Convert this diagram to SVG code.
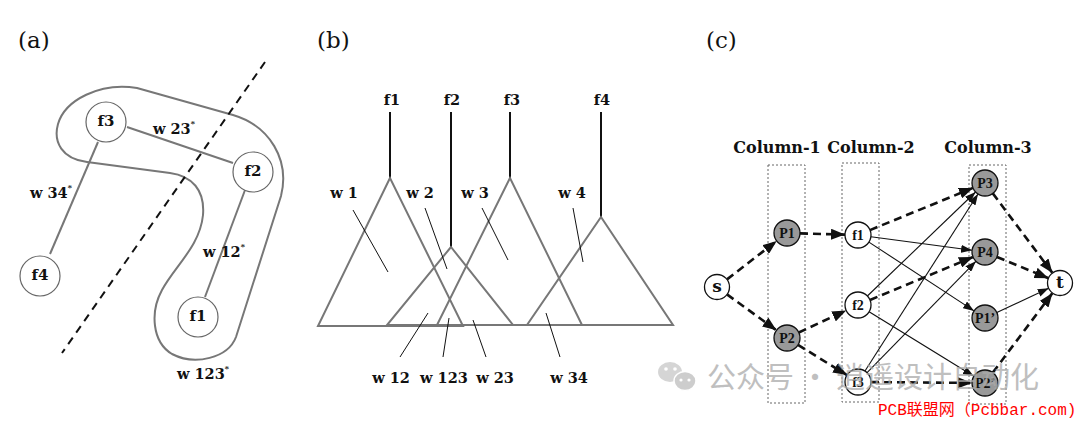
<svg xmlns="http://www.w3.org/2000/svg" width="1080" height="423" viewBox="0 0 1080 423">
<style>
.pl{font-family:"DejaVu Serif","Liberation Serif",serif;font-size:23px;fill:#111}
.lb{font-family:"DejaVu Serif","Liberation Serif",serif;font-weight:bold;font-size:14.5px;fill:#111}
.lbm{font-family:"DejaVu Serif","Liberation Serif",serif;font-weight:bold;font-size:14.5px;fill:#111;text-anchor:middle}
.sup{font-size:8px}
.nd{font-family:"DejaVu Serif","Liberation Serif",serif;font-weight:bold;font-size:15px;fill:#111;text-anchor:middle;dominant-baseline:central}
.cn{font-family:"Liberation Serif",serif;font-weight:bold;font-size:14px;fill:#111;text-anchor:middle;dominant-baseline:central}
.cb{font-family:"DejaVu Serif","Liberation Serif",serif;font-weight:bold;font-size:17px;fill:#111;text-anchor:middle;dominant-baseline:central}
.col{font-family:"DejaVu Serif","Liberation Serif",serif;font-weight:bold;font-size:16px;fill:#111;text-anchor:middle}
.ac{fill:#fff;stroke:#666;stroke-width:1.2}
.ae{stroke:#777;stroke-width:2;fill:none}
.tri{stroke:#777;stroke-width:2;fill:none}
.stem{stroke:#111;stroke-width:2}
.lead{stroke:#111;stroke-width:1}
.wn{fill:#fff;stroke:#111;stroke-width:1.3}
.gn{fill:#999;stroke:#111;stroke-width:1.3}
.dsh{stroke:#111;stroke-width:2.6;stroke-dasharray:8,5;fill:none;marker-end:url(#ah)}
.sol{stroke:#111;stroke-width:1.1;fill:none;marker-end:url(#as)}
.box{fill:none;stroke:#666;stroke-width:1;stroke-dasharray:2,2}
</style>
<defs>
<marker id="ah" markerUnits="userSpaceOnUse" markerWidth="14" markerHeight="11" refX="14" refY="5.5" orient="auto"><path d="M0,0 L14,5.5 L0,11 Z" fill="#111"/></marker>
<marker id="as" markerUnits="userSpaceOnUse" markerWidth="11" markerHeight="8" refX="11" refY="4" orient="auto"><path d="M0,0 L11,4 L0,8 Z" fill="#111"/></marker>
</defs>
<rect width="1080" height="423" fill="#fff"/>

<!-- Panel (a) -->
<text class="pl" x="18" y="48">(a)</text>
<g id="a-blob"><path class="ae" d="M137,88 L233,115 C270,126 290,160 281,196 L236,337 C228,358 195,366 172,354 C152,342 150,312 162,290 C175,266 200,246 203,215 C205,190 192,176 170,173 L87,162 C62,159 53,142 58,124 C65,100 100,82 137,88 Z"/></g>
<g id="a-connectors">
<line class="ae" x1="127" y1="127" x2="233" y2="163"/>
<line class="ae" x1="98" y1="142" x2="50" y2="254"/>
<line class="ae" x1="245" y1="190" x2="205" y2="297"/>
<line x1="265" y1="62" x2="62" y2="353" stroke="#111" stroke-width="2" stroke-dasharray="8,6"/>
</g>
<g id="a-f3"><circle class="ac" cx="106" cy="122" r="20"/><text class="nd" x="106" y="121">f3</text></g>
<g id="a-f2"><circle class="ac" cx="253" cy="172" r="20"/><text class="nd" x="253" y="171">f2</text></g>
<g id="a-f4"><circle class="ac" cx="40" cy="276" r="20"/><text class="nd" x="40" y="275">f4</text></g>
<g id="a-f1"><circle class="ac" cx="198" cy="317" r="20"/><text class="nd" x="198" y="316">f1</text></g>
<text class="lb" x="153" y="134">w 23<tspan class="sup" dy="-8">*</tspan></text>
<text class="lb" x="30" y="198">w 34<tspan class="sup" dy="-8">*</tspan></text>
<text class="lb" x="203" y="257">w 12<tspan class="sup" dy="-8">*</tspan></text>
<text class="lb" x="177" y="379">w 123<tspan class="sup" dy="-8">*</tspan></text>

<!-- Panel (b) -->
<text class="pl" x="317" y="48">(b)</text>
<g id="b-f1"><text class="lbm" x="392" y="105">f1</text><line class="stem" x1="390" y1="112" x2="390" y2="179"/><path class="tri" d="M390,178 L318,326 L463,326 Z"/></g>
<g id="b-f2"><text class="lbm" x="452" y="105">f2</text><line class="stem" x1="451" y1="112" x2="451" y2="248"/><path class="tri" d="M451,247 L387,325 L513,325 Z"/></g>
<g id="b-f3"><text class="lbm" x="512" y="105">f3</text><line class="stem" x1="510" y1="112" x2="510" y2="179"/><path class="tri" d="M510,178 L437,325 L582,325 Z"/></g>
<g id="b-f4"><text class="lbm" x="602" y="105">f4</text><line class="stem" x1="601" y1="112" x2="601" y2="218"/><path class="tri" d="M601,217 L527,325 L673,325 Z"/></g>
<g id="b-leaders">
<line class="lead" x1="353" y1="210" x2="388" y2="272"/>
<line class="lead" x1="425" y1="208" x2="447" y2="269"/>
<line class="lead" x1="482" y1="208" x2="508" y2="260"/>
<line class="lead" x1="573" y1="208" x2="583" y2="262"/>
<line class="lead" x1="428" y1="313" x2="400" y2="357"/>
<line class="lead" x1="449" y1="318" x2="443" y2="357"/>
<line class="lead" x1="473" y1="320" x2="486" y2="357"/>
<line class="lead" x1="546" y1="313" x2="560" y2="357"/>
</g>
<text class="lbm" x="344" y="198">w 1</text>
<text class="lbm" x="420" y="198">w 2</text>
<text class="lbm" x="475" y="198">w 3</text>
<text class="lbm" x="572" y="198">w 4</text>
<text class="lbm" x="391" y="383">w 12</text>
<text class="lbm" x="444" y="383">w 123</text>
<text class="lbm" x="495" y="383">w 23</text>
<text class="lbm" x="569" y="383">w 34</text>

<!-- Panel (c) -->
<text class="pl" x="706" y="48">(c)</text>
<text class="col" x="777" y="153">Column-1</text>
<text class="col" x="871" y="153">Column-2</text>
<text class="col" x="988" y="153">Column-3</text>
<g id="c-columns">
<rect class="box" x="768" y="165" width="37" height="238"/>
<rect class="box" x="842" y="163" width="37" height="239"/>
<rect class="box" x="969" y="165" width="37" height="239"/>
</g>
<g id="c-connectors">
<line class="dsh" x1="727" y1="279.4" x2="776.7" y2="240.9"/>
<line class="dsh" x1="727" y1="294.4" x2="776.5" y2="330.3"/>
<line class="dsh" x1="800" y1="233.4" x2="845" y2="234.6"/>
<line class="dsh" x1="798.8" y1="332.5" x2="846.2" y2="310.5"/>
<line class="dsh" x1="798" y1="344.9" x2="847" y2="375.1"/>
<line class="dsh" x1="870" y1="230.1" x2="973" y2="187.9"/>
<line class="dsh" x1="870" y1="300" x2="973" y2="257"/>
<line class="dsh" x1="871" y1="382.1" x2="972" y2="382.9"/>
<line class="dsh" x1="992.8" y1="193.4" x2="1052.5" y2="273"/>
<line class="dsh" x1="997" y1="257" x2="1048.5" y2="278.2"/>
<line class="dsh" x1="992.8" y1="372.6" x2="1052.5" y2="293"/>
<line class="sol" x1="870.9" y1="236.7" x2="972.1" y2="250.3"/>
<line class="sol" x1="868.9" y1="242.1" x2="974.1" y2="310.9"/>
<line class="sol" x1="867.4" y1="296" x2="975.6" y2="192"/>
<line class="sol" x1="869.1" y1="311.8" x2="973.9" y2="376.2"/>
<line class="sol" x1="865" y1="371" x2="978" y2="194"/>
<line class="sol" x1="867.1" y1="372.7" x2="975.9" y2="261.3"/>
<line class="sol" x1="996.8" y1="312.5" x2="1048.7" y2="288.3"/>
</g>
<g id="c-s"><circle class="wn" cx="717" cy="287" r="12.5"/><text class="cb" x="717" y="286">s</text></g>
<g id="c-P1"><circle class="gn" cx="787" cy="233" r="13"/><text class="cn" x="787" y="233">P1</text></g>
<g id="c-P2"><circle class="gn" cx="787" cy="338" r="13"/><text class="cn" x="787" y="338">P2</text></g>
<g id="c-f1"><circle class="wn" cx="858" cy="235" r="13"/><text class="cn" x="858" y="235">f1</text></g>
<g id="c-f2"><circle class="wn" cx="858" cy="305" r="13"/><text class="cn" x="858" y="305">f2</text></g>
<g id="c-f3"><circle class="wn" cx="858" cy="382" r="13"/><text class="cn" x="858" y="382">f3</text></g>
<g id="c-P3"><circle class="gn" cx="985" cy="183" r="13"/><text class="cn" x="985" y="183">P3</text></g>
<g id="c-P4"><circle class="gn" cx="985" cy="252" r="13"/><text class="cn" x="985" y="252">P4</text></g>
<g id="c-P1p"><circle class="gn" cx="985" cy="318" r="13"/><text class="cn" x="985" y="318">P1’</text></g>
<g id="c-P2p"><circle class="gn" cx="985" cy="383" r="13"/><text class="cn" x="985" y="383">P2’</text></g>
<g id="c-t"><circle class="wn" cx="1060" cy="283" r="12.5"/><text class="cb" x="1060" y="282">t</text></g>

<!-- watermarks -->
<g id="watermark" opacity="0.75">
<ellipse cx="670" cy="372" rx="12" ry="10" fill="#c8c8c8"/>
<ellipse cx="685" cy="381" rx="11" ry="9.5" fill="#bdbdbd" stroke="#fff" stroke-width="1.5"/>
<circle cx="666" cy="369" r="1.8" fill="#fff"/><circle cx="675" cy="369" r="1.8" fill="#fff"/>
<circle cx="681" cy="380" r="1.6" fill="#fff"/><circle cx="689" cy="380" r="1.6" fill="#fff"/>
<text x="707" y="388" font-family="Noto Sans CJK SC, sans-serif" font-size="29" fill="#aaa">公众号 · 逍遥设计自动化</text>
</g>
<text x="878" y="415" font-family="Liberation Mono, Noto Sans CJK SC, monospace" font-size="16" fill="#f00">PCB联盟网（Pcbbar.com)</text>
</svg>
